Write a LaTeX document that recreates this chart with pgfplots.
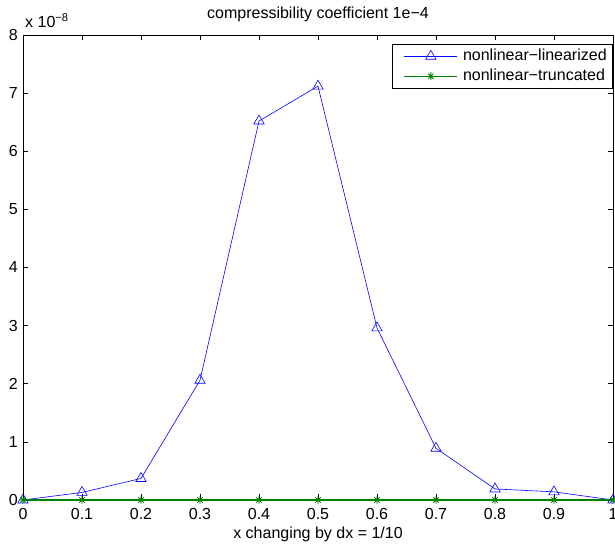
\documentclass[border=0pt]{standalone}
\usepackage{fontspec}
\setmainfont{Liberation Sans}
\usepackage{pgfplots}
\pgfplotsset{compat=1.18}
\definecolor{mblue}{RGB}{0,0,255}
\definecolor{mgreen}{RGB}{0,128,0}
\newcommand{\mfont}{\fontsize{16}{19}\selectfont}
% MATLAB-style '*' marker: plus and cross together
\pgfdeclareplotmark{mstar}{%
  \pgfpathmoveto{\pgfqpoint{0pt}{\pgfplotmarksize}}%
  \pgfpathlineto{\pgfqpoint{0pt}{-\pgfplotmarksize}}%
  \pgfpathmoveto{\pgfqpoint{\pgfplotmarksize}{0pt}}%
  \pgfpathlineto{\pgfqpoint{-\pgfplotmarksize}{0pt}}%
  \pgfpathmoveto{\pgfqpoint{0.707\pgfplotmarksize}{0.707\pgfplotmarksize}}%
  \pgfpathlineto{\pgfqpoint{-0.707\pgfplotmarksize}{-0.707\pgfplotmarksize}}%
  \pgfpathmoveto{\pgfqpoint{-0.707\pgfplotmarksize}{0.707\pgfplotmarksize}}%
  \pgfpathlineto{\pgfqpoint{0.707\pgfplotmarksize}{-0.707\pgfplotmarksize}}%
  \pgfusepathqstroke}
\begin{document}
\begin{tikzpicture}[x=1pt,y=1pt]
\begin{axis}[
  name=ax,
  scale only axis,
  width=590pt,height=465pt,
  xmin=0,xmax=1,ymin=0,ymax=8e-8,
  xtick={0,0.1,...,1},
  ytick={0,1e-8,2e-8,3e-8,4e-8,5e-8,6e-8,7e-8,8e-8},
  xticklabels={0,0.1,0.2,0.3,0.4,0.5,0.6,0.7,0.8,0.9,1},
  scaled y ticks=base 10:8,
  ytick scale label code/.code={},
  tick align=inside,
  major tick length=5.5pt,
  tick style={black,line width=0.5pt},
  axis line style={line width=0.8pt},
  /pgf/number format/assume math mode=true,
  tick label style={font=\mfont,inner sep=0pt},
  xticklabel style={anchor=base,yshift=-20pt},
  yticklabel style={anchor=east,xshift=-5pt},
  title style={font=\mfont,at={(axis description cs:0.5,1)},anchor=base,yshift=10pt},
  title={compressibility coefficient 1e−4},
  xlabel style={font=\mfont,at={(axis description cs:0.5,0)},anchor=base,yshift=-39pt},
  xlabel={x changing by dx = 1/10},
  clip=false,
  legend style={at={(rel axis cs:1,1)},anchor=north east,yshift=-9pt,
    font=\mfont,draw=black,line width=0.6pt,
    inner xsep=6pt,inner ysep=4pt,row sep=4pt,
    nodes={inner sep=0pt,text height=12pt,text depth=4pt}},
  legend image code/.code={
    \path (-5pt,0pt) (58pt,0pt);
    \draw[mark repeat=2,mark phase=2] plot coordinates {(0pt,0pt) (26.5pt,0pt) (53pt,0pt)};},
  legend cell align=left,
]
\addplot[mblue,line width=0.6pt,mark=triangle,mark size=6pt,
  mark options={solid,line width=0.6pt}] coordinates {
  (0,0) (0.1,1.3e-9) (0.2,3.7e-9) (0.3,2.06e-8) (0.4,6.52e-8)
  (0.5,7.12e-8) (0.6,2.96e-8) (0.7,8.9e-9) (0.8,1.9e-9)
  (0.9,1.4e-9) (1,0)};
\addlegendentry{nonlinear−linearized}
\addplot[mgreen,line width=1.4pt,mark=mstar,mark size=3.8pt,
  mark options={solid,line width=0.8pt}] coordinates {
  (0,0) (0.1,0) (0.2,0) (0.3,0) (0.4,0) (0.5,0) (0.6,0) (0.7,0)
  (0.8,0) (0.9,0) (1,0)};
\addlegendentry{nonlinear−truncated}
\node[anchor=base west,font=\mfont,inner sep=0pt]
  at (rel axis cs:0,1) [yshift=7pt,xshift=2pt] {x 10\textsuperscript{−8}};
\end{axis}
\pgfresetboundingbox
\path ([xshift=-23pt,yshift=-44pt]ax.south west) rectangle ([xshift=2pt,yshift=35pt]ax.north east);
\end{tikzpicture}
\end{document}
